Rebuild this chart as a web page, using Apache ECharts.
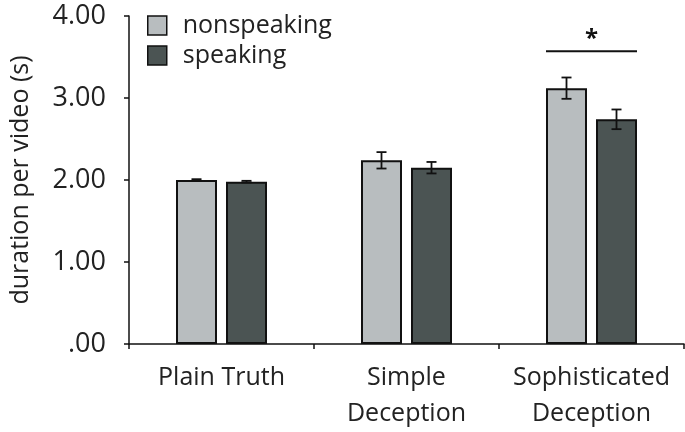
<!DOCTYPE html>
<html>
<head>
<meta charset="utf-8">
<script src="https://cdn.jsdelivr.net/npm/echarts@6/dist/echarts.min.js"></script>
<style>html,body{margin:0;padding:0;background:#fff;}#c{width:685px;height:432px;}</style>
</head>
<body>
<div id="c"></div>
<script>
var categories = ['Plain Truth', 'Simple\nDeception', 'Sophisticated\nDeception'];
var seriesNames = ['nonspeaking', 'speaking'];
var nonspeaking = [2.00, 2.24, 3.12];
var speaking = [1.98, 2.15, 2.74];
var nonspeakingErr = [0.01, 0.10, 0.13];
var speakingErr = [0.01, 0.07, 0.12];
var yTicks = [0, 1, 2, 3, 4];
var sigCategory = 2;
var sigLevel = 3.57;
var sigLabel = '*';

var FONT = 'Open Sans';
var colors = ['#b8bdbf', '#4b5453'];
var barW = 41, barGapPx = 9;
var offsets = [-(barW + barGapPx) / 2, (barW + barGapPx) / 2];

function errData(vals, errs) {
  return vals.map(function (v, i) { return [i, v, errs[i]]; });
}

function errRender(sIdx) {
  return function (params, api) {
    var c = api.value(0), v = api.value(1), e = api.value(2);
    var top = api.coord([c, v + e]);
    var bot = api.coord([c, v - e]);
    var x = top[0] + offsets[sIdx];
    var cap = 5;
    var st = { stroke: '#111', lineWidth: 1.8 };
    return {
      type: 'group',
      children: [
        { type: 'line', shape: { x1: x, y1: top[1], x2: x, y2: bot[1] }, style: st },
        { type: 'line', shape: { x1: x - cap, y1: top[1], x2: x + cap, y2: top[1] }, style: st },
        { type: 'line', shape: { x1: x - cap, y1: bot[1], x2: x + cap, y2: bot[1] }, style: st }
      ]
    };
  };
}

var chart = echarts.init(document.getElementById('c'));
chart.setOption({
  animation: false,
  backgroundColor: '#fff',
  textStyle: { fontFamily: FONT },
  grid: { left: 126, right: 1, top: 16, bottom: 88, containLabel: false },
  legend: {
    data: seriesNames,
    orient: 'vertical',
    left: 147, top: 12, padding: 0,
    itemWidth: 19, itemHeight: 19, itemGap: 3,
    icon: 'rect',
    itemStyle: { borderColor: '#111', borderWidth: 1.5 },
    textStyle: { fontSize: 25, color: '#222', fontFamily: FONT, padding: [0, 0, 0, 11], lineHeight: 27 }
  },
  xAxis: {
    type: 'category',
    data: categories,
    axisLine: { lineStyle: { color: '#111', width: 1.5 } },
    axisTick: { show: true, length: 5, lineStyle: { color: '#111', width: 1.5 } },
    axisLabel: { interval: 0, hideOverlap: false, fontSize: 25, color: '#222', margin: 16, lineHeight: 36, fontFamily: FONT }
  },
  yAxis: {
    type: 'value',
    min: 0, max: 4, interval: 1,
    name: 'duration per video (s)',
    nameLocation: 'middle',
    nameGap: 96,
    nameTextStyle: { fontSize: 25, color: '#222', fontFamily: FONT },
    axisLine: { show: true, lineStyle: { color: '#111', width: 1.5 } },
    axisTick: { show: true, length: 5, lineStyle: { color: '#111', width: 1.5 } },
    splitLine: { show: false },
    axisLabel: {
      fontSize: 27, color: '#222', margin: 23, fontFamily: FONT,
      formatter: function (v) { return v === 0 ? '.00' : v.toFixed(2); }
    }
  },
  series: [
    {
      name: seriesNames[0], type: 'bar', data: nonspeaking,
      barWidth: barW, barGap: (barGapPx / barW * 100) + '%',
      itemStyle: { color: colors[0], borderColor: '#111', borderWidth: 2 }
    },
    {
      name: seriesNames[1], type: 'bar', data: speaking,
      barWidth: barW,
      itemStyle: { color: colors[1], borderColor: '#111', borderWidth: 2 }
    },
    { type: 'custom', renderItem: errRender(0), data: errData(nonspeaking, nonspeakingErr), z: 5, silent: true },
    { type: 'custom', renderItem: errRender(1), data: errData(speaking, speakingErr), z: 5, silent: true },
    {
      type: 'custom', z: 5, silent: true,
      data: [[sigCategory, sigLevel]],
      renderItem: function (params, api) {
        var p = api.coord([api.value(0), api.value(1)]);
        var x1 = p[0] + offsets[0] - barW / 2, x2 = p[0] + offsets[1] + barW / 2;
        return {
          type: 'group',
          children: [
            { type: 'line', shape: { x1: x1, y1: p[1], x2: x2, y2: p[1] }, style: { stroke: '#111', lineWidth: 2 } },
            { type: 'text', style: { text: sigLabel, x: p[0], y: p[1], align: 'center', verticalAlign: 'bottom', fontSize: 24, fontWeight: 'bold', fill: '#111', fontFamily: FONT } }
          ]
        };
      }
    }
  ]
});
</script>
</body>
</html>
